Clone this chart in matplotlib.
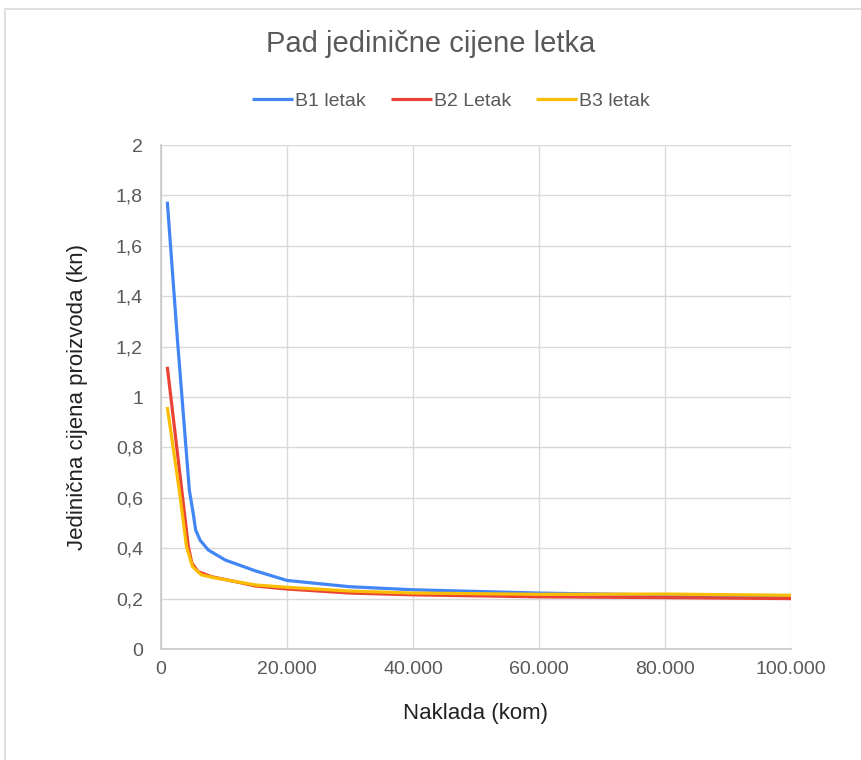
import matplotlib.pyplot as plt
from matplotlib.patches import Rectangle
from matplotlib.ticker import FuncFormatter, MultipleLocator

plt.rcParams['font.family'] = ['Liberation Sans', 'DejaVu Sans']

# Values (naklada in kom, cijena in kn)
b1_x = [1000, 2600, 4500, 5100, 5500, 6200, 7500, 10200, 15000, 20000, 30000, 40000, 60000, 80000, 100000]
b1_y = [1.775, 1.23, 0.63, 0.54, 0.472, 0.432, 0.393, 0.353, 0.31, 0.272, 0.247, 0.235, 0.222, 0.214, 0.208]

b2_x = [1000, 3300, 4340, 4900, 5900, 8000, 12800, 15000, 20000, 30000, 40000, 60000, 80000, 100000]
b2_y = [1.12, 0.63, 0.406, 0.341, 0.307, 0.287, 0.262, 0.25, 0.238, 0.222, 0.215, 0.207, 0.204, 0.200]

b3_x = [1000, 2900, 4050, 5000, 6400, 8600, 15000, 20000, 30000, 40000, 60000, 80000, 100000]
b3_y = [0.96, 0.63, 0.406, 0.327, 0.294, 0.282, 0.254, 0.245, 0.23, 0.222, 0.217, 0.218, 0.213]

series = [
    ('B1 letak', b1_x, b1_y, '#4285F4'),
    ('B2 Letak', b2_x, b2_y, '#EA4335'),
    ('B3 letak', b3_x, b3_y, '#FBBC04'),
]

fig = plt.figure(figsize=(8.62, 7.60), dpi=100)
ax = fig.add_axes([161 / 862, 1 - 649 / 760, 630 / 862, 504 / 760])

# outer chart border (only top and left visible in the reference)
fig.patches.append(Rectangle((5 / 862, -0.1), 1.2, 1 - 9 / 760 + 0.1, transform=fig.transFigure,
                             fill=False, edgecolor='#d9d9d9', linewidth=1.2))

for name, xs, ys, col in series:
    ax.plot(xs, ys, color=col, linewidth=2.3, label=name, solid_capstyle='butt',
            solid_joinstyle='round', zorder=3)

ax.set_xlim(0, 100000)
ax.set_ylim(0, 2)
ax.xaxis.set_major_locator(MultipleLocator(20000))
ax.yaxis.set_major_locator(MultipleLocator(0.2))
ax.xaxis.set_major_formatter(FuncFormatter(lambda v, _: '{:,.0f}'.format(v).replace(',', '.')))
ax.yaxis.set_major_formatter(FuncFormatter(lambda v, _: ('%g' % round(v, 1)).replace('.', ',')))

ax.grid(True, color='#d9d9d9', linewidth=1)
ax.set_axisbelow(True)
for side in ['top', 'right']:
    ax.spines[side].set_visible(False)
for side in ['left', 'bottom']:
    ax.spines[side].set_color('#c8c8c8')
    ax.spines[side].set_linewidth(1.2)
ax.tick_params(length=0, labelsize=14, labelcolor='#595959')
ax.tick_params(axis='y', pad=13)
ax.tick_params(axis='x', pad=9)

ax.set_xlabel('Naklada (kom)', fontsize=16, color='#222222', labelpad=18)
ax.set_ylabel('Jedinična cijena proizvoda (kn)', fontsize=16, color='#222222', labelpad=20)

fig.text(0.5, 1 - 44 / 760, 'Pad jedinične cijene letka', fontsize=21, color='#595959',
         ha='center', va='center')

fig.legend(loc='center', bbox_to_anchor=(451 / 862, 1 - 101 / 760), ncol=3, frameon=False,
           fontsize=14, handlelength=2.1, handletextpad=0.1, columnspacing=1.3,
           labelcolor='#595959')

fig.savefig('out.png', dpi=100, facecolor='white')
